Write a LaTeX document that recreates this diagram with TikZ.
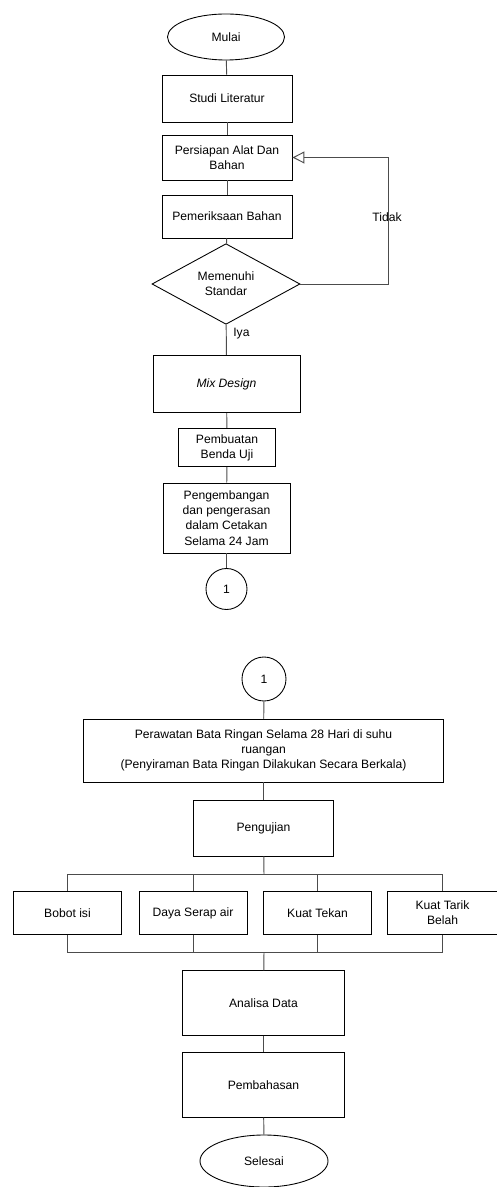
\documentclass[tikz,border=0pt]{standalone}
\usepackage{fontspec}
\setmainfont{Liberation Sans}
\usetikzlibrary{shapes.geometric,arrows.meta}

\begin{document}
\begin{tikzpicture}[
	every node/.style={font=\fontsize{6.9}{8.6}\selectfont, align=center},
	kotak/.style={draw, rectangle, line width=0.5pt, inner sep=1pt},
	terminal/.style={draw, ellipse, line width=0.5pt, inner sep=0pt},
	keputusan/.style={draw, diamond, line width=0.5pt, inner sep=0pt},
	sambung/.style={draw, circle, line width=0.5pt, inner sep=0pt},
	garis/.style={draw=black!70, line width=0.55pt}
	]
	\useasboundingbox (0,0) rectangle (9.92,-23.74);

	% Bagian pertama: persiapan sampai benda uji
	\node[terminal, minimum width=2.34cm, minimum height=0.92cm] (mulai) at (4.52,-0.74) {Mulai};
	\node[kotak, minimum width=2.6cm, minimum height=0.94cm] (studi) at (4.54,-1.97) {Studi Literatur};
	\node[kotak, minimum width=2.6cm, minimum height=0.9cm] (persiapan) at (4.54,-3.15) {Persiapan Alat Dan\\Bahan};
	\node[kotak, minimum width=2.6cm, minimum height=0.86cm] (periksa) at (4.54,-4.33) {Pemeriksaan Bahan};
	\node[keputusan, minimum width=2.96cm, minimum height=1.16cm] (standar) at (4.52,-5.68) {Memenuhi\\Standar};
	\node[kotak, minimum width=2.94cm, minimum height=1.15cm] (mix) at (4.53,-7.68) {\textit{Mix Design}};
	\node[kotak, minimum width=1.95cm, minimum height=0.77cm] (benda) at (4.54,-8.95) {Pembuatan\\Benda Uji};
	\node[kotak, minimum width=2.54cm, minimum height=1.4cm] (cetak) at (4.53,-10.36) {Pengembangan\\dan pengerasan\\dalam Cetakan\\Selama 24 Jam};
	\node[sambung, minimum size=0.82cm] (konA) at (4.53,-11.78) {1};

	\draw[garis] (mulai) -- (studi);
	\draw[garis] (studi) -- (persiapan);
	\draw[garis] (persiapan) -- (periksa);
	\draw[garis] (periksa) -- (standar);
	\draw[garis] (standar) -- (mix);
	\draw[garis] (mix) -- (benda);
	\draw[garis] (benda) -- (cetak);
	\draw[garis] (cetak) -- (konA);
	\node[anchor=west, inner sep=0pt] (iya) at (4.66,-6.68) {Iya};

	% Kembali ke persiapan bila tidak memenuhi
	\coordinate (sudutA) at (7.76,-5.68);
	\coordinate (sudutB) at (7.76,-3.15);
	\draw[garis, -{Triangle[open, length=0.24cm, width=0.24cm]}] (standar.east) -- (sudutA) -- (sudutB) -- (persiapan.east);
	\node[inner sep=0pt] (tidak) at (7.74,-4.34) {Tidak};

	% Bagian kedua: perawatan sampai selesai
	\node[sambung, minimum size=0.88cm] (konB) at (5.28,-13.58) {1};
	\node[kotak, minimum width=7.19cm, minimum height=1.26cm] (rawat) at (5.27,-15.01) {Perawatan Bata Ringan Selama 28 Hari di suhu\\ruangan\\(Penyiraman Bata Ringan Dilakukan Secara Berkala)};
	\node[kotak, minimum width=2.79cm, minimum height=1.12cm] (uji) at (5.27,-16.56) {Pengujian};
	\coordinate (busA) at (5.28,-17.48);
	\coordinate (busB) at (5.28,-19.05);

	% Empat pengujian
	\foreach \x/\w/\name/\teks in {1.35/2.16/bobot/Bobot isi, 3.86/2.16/serap/Daya Serap air, 6.35/2.16/tekan/Kuat Tekan, 8.85/2.2/tarik/{Kuat Tarik\\Belah}} {
		\node[kotak, minimum width=\w cm, minimum height=0.85cm] (\name) at (\x,-18.26) {\teks};
		\draw[garis] (busA) -| (\name.north);
		\draw[garis] (\name.south) |- (busB);
	}

	\node[kotak, minimum width=3.23cm, minimum height=1.29cm] (analisa) at (5.27,-20.06) {Analisa Data};
	\node[kotak, minimum width=3.23cm, minimum height=1.29cm] (bahas) at (5.27,-21.70) {Pembahasan};
	\node[terminal, minimum width=2.56cm, minimum height=1.04cm] (selesai) at (5.28,-23.22) {Selesai};

	\draw[garis] (konB) -- (rawat);
	\draw[garis] (rawat) -- (uji);
	\draw[garis] (uji) -- (busA);
	\draw[garis] (busB) -- (analisa);
	\draw[garis] (analisa) -- (bahas);
	\draw[garis] (bahas) -- (selesai);
\end{tikzpicture}
\end{document}
